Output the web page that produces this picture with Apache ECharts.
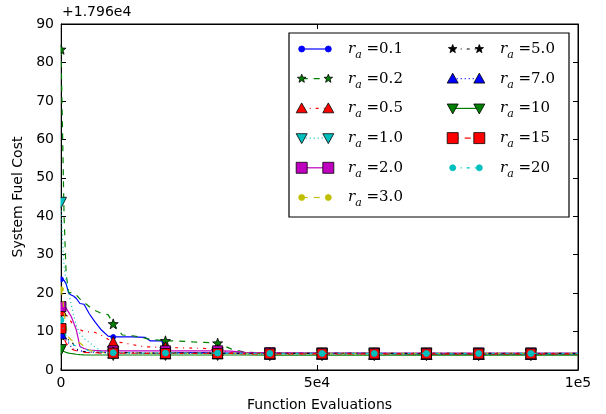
<!DOCTYPE html>
<html><head><meta charset="utf-8">
<script src="https://cdn.jsdelivr.net/npm/echarts@6/dist/echarts.min.js"></script>
<style>html,body{margin:0;padding:0;background:#fff}#c{width:606px;height:414px}</style>
</head><body><div id="c"></div><script>
// ---- data ----
const evals = [0, 300, 600, 1000, 1500, 2000, 2500, 3000, 3700, 4500, 5500, 6600, 7900, 9200, 10200, 12000, 14000, 16400, 17400, 19700, 20400, 22300, 25800, 28000, 30600, 33200, 36000, 40800, 51000, 61200, 71400, 81600, 91800, 101000];
const markerEvals = [0, 10200, 20400, 30600, 40800, 51000, 61200, 71400, 81600, 91800];
const labels = ['0.1', '0.2', '0.5', '1.0', '2.0', '3.0', '5.0', '7.0', '10', '15', '20'];
const ra01 = [23.6, 23.5, 23.3, 22.4, 20.0, 19.5, 19.2, 18.6, 17.3, 17.1, 14.7, 12.6, 10.4, 8.8, 8.6, 8.6, 8.6, 8.5, 7.6, 7.6, 4.6, 4.5, 4.5, 4.5, 4.4, 4.4, 4.4, 4.3, 4.3, 4.3, 4.2, 4.2, 4.2, 4.2];
const ra02 = [83.4, 62, 40, 25, 20.2, 20.1, 20.0, 19.5, 18.5, 17.6, 16.5, 15.5, 14.7, 14.4, 12.0, 9.1, 8.9, 8.3, 8.0, 7.7, 7.6, 7.6, 7.3, 7.2, 7.0, 5.5, 4.6, 4.4, 4.3, 4.3, 4.2, 4.2, 4.2, 4.2];
const ra05 = [15.5, 15.0, 14.8, 14.5, 13.5, 12.5, 11.5, 11.0, 10.5, 10.0, 9.9, 9.8, 9.0, 8.0, 7.3, 7.1, 6.6, 6.0, 6.0, 5.9, 5.9, 5.8, 5.7, 5.6, 5.2, 4.6, 4.4, 4.3, 4.3, 4.2, 4.2, 4.2, 4.2, 4.2];
const ra1 = [43.5, 34, 27, 23, 20, 17, 14, 11.5, 9.5, 8.2, 7.2, 6.0, 5.0, 4.8, 4.7, 4.6, 4.6, 4.5, 4.5, 4.5, 4.5, 4.5, 4.4, 4.4, 4.4, 4.4, 4.4, 4.3, 4.3, 4.3, 4.3, 4.3, 4.3, 4.3];
const ra2 = [16.5, 16.4, 16.3, 16.1, 15.0, 13.9, 12.2, 10.4, 6.1, 5.6, 5.2, 5.1, 5.0, 5.0, 5.0, 5.0, 5.0, 5.0, 5.0, 5.0, 5.0, 5.0, 5.0, 5.0, 5.0, 4.9, 4.6, 4.5, 4.4, 4.4, 4.4, 4.4, 4.4, 4.4];
const ra3 = [21, 19, 15, 11, 8.5, 7.8, 7.5, 7.3, 7.0, 6.2, 5.2, 4.8, 4.6, 4.5, 4.5, 4.5, 4.5, 4.4, 4.4, 4.4, 4.4, 4.4, 4.4, 4.4, 4.4, 4.3, 4.3, 4.3, 4.3, 4.3, 4.3, 4.3, 4.3, 4.3];
const ra5 = [9.0, 8.8, 8.5, 8.2, 7.8, 7.6, 6.5, 5.5, 5.0, 4.8, 4.7, 4.6, 4.6, 4.5, 4.5, 4.5, 4.5, 4.4, 4.4, 4.4, 4.4, 4.4, 4.4, 4.4, 4.3, 4.3, 4.3, 4.3, 4.3, 4.3, 4.3, 4.3, 4.3, 4.3];
const ra7 = [9.5, 8.5, 8.0, 7.8, 7.0, 6.0, 5.4, 5.2, 5.0, 4.8, 4.6, 4.6, 4.5, 4.5, 4.5, 4.4, 4.4, 4.4, 4.4, 4.3, 4.3, 4.3, 4.3, 4.3, 4.3, 4.3, 4.2, 4.2, 4.2, 4.2, 4.2, 4.2, 4.2, 4.2];
const ra10 = [5.2, 5.0, 4.8, 4.6, 4.4, 4.3, 4.2, 4.1, 4.0, 3.95, 3.9, 3.9, 3.9, 3.9, 3.9, 3.9, 3.9, 3.9, 3.9, 3.9, 3.9, 3.9, 3.9, 3.9, 3.9, 3.9, 3.9, 3.85, 3.85, 3.85, 3.85, 3.85, 3.85, 3.85];
const ra15 = [10.8, 9.5, 8.2, 7.0, 6.0, 5.5, 5.2, 5.0, 4.8, 4.6, 4.5, 4.5, 4.4, 4.4, 4.4, 4.4, 4.4, 4.3, 4.3, 4.3, 4.3, 4.3, 4.3, 4.3, 4.3, 4.3, 4.2, 4.2, 4.2, 4.2, 4.2, 4.2, 4.2, 4.2];
const ra20 = [13.0, 11.5, 10.0, 8.8, 7.5, 7.0, 6.5, 6.2, 6.0, 5.5, 5.0, 4.8, 4.7, 4.5, 4.5, 4.5, 4.5, 4.4, 4.4, 4.4, 4.4, 4.4, 4.4, 4.4, 4.4, 4.3, 4.3, 4.3, 4.3, 4.3, 4.3, 4.3, 4.3, 4.3];
const seriesValues = [ra01, ra02, ra05, ra1, ra2, ra3, ra5, ra7, ra10, ra15, ra20];
const xTickValues = [0, 50000, 101000];
const xTickLabels = ['0', '5e4', '1e5'];
const yOffsetText = '+1.796e4';

// ---- styles ----
const DASH = {solid: null, dashed: [6, 6], dashdot: [3, 5, 1, 5], dotted: [1, 3]};
const styles = [
  {color: '#0000ff', dash: 'solid', mk: 'circle', size: 5, edge: '#0000ff'},
  {color: '#008000', dash: 'dashed', mk: 'star', size: 10, edge: '#000'},
  {color: '#ff0000', dash: 'dashdot', mk: 'tri', size: 11, edge: '#000'},
  {color: '#00bfbf', dash: 'dotted', mk: 'trid', size: 11, edge: '#000'},
  {color: '#bf00bf', dash: 'solid', mk: 'square', size: 10, edge: '#000'},
  {color: '#bfbf00', dash: 'dashed', mk: 'circle', size: 5, edge: '#bfbf00'},
  {color: '#000000', dash: 'dashdot', mk: 'star', size: 9, edge: '#000'},
  {color: '#0000ff', dash: 'dotted', mk: 'tri', size: 11, edge: '#000'},
  {color: '#008000', dash: 'solid', mk: 'trid', size: 11, edge: '#000'},
  {color: '#ff0000', dash: 'dashed', mk: 'square', size: 10, edge: '#000'},
  {color: '#00bfbf', dash: 'dashdot', mk: 'circle', size: 6, edge: '#00bfbf'}
];
const STAR_PATH = 'path://M0,-10L2.35,-3.24L9.51,-3.09L3.8,1.24L5.88,8.09L0,4L-5.88,8.09L-3.8,1.24L-9.51,-3.09L-2.35,-3.24Z';
function symName(mk) {
  return mk === 'circle' ? 'circle' : mk === 'star' ? STAR_PATH : (mk === 'square' ? 'rect' : 'triangle');
}

const series = seriesValues.map((ys, si) => {
  const st = styles[si];
  return {
    type: 'line', name: labels[si],
    data: evals.map((x, i) => ({value: [x, ys[i]], symbol: markerEvals.includes(x) ? symName(st.mk) : 'none'})),
    showSymbol: true, showAllSymbol: true, symbolSize: st.size,
    symbolRotate: st.mk === 'trid' ? 180 : 0,
    lineStyle: {color: st.color, width: 1.2, type: DASH[st.dash] || 'solid'},
    itemStyle: {color: st.color, borderColor: st.edge, borderWidth: 0.8},
    emphasis: {disabled: true}, animation: false, clip: true, z: 2 + si * 0.01
  };
});

// ---- legend (custom graphic) ----
const legendEls = [];
// mask: clip markers to the plot area on the left edge (as the original does)
legendEls.push({type: 'rect', shape: {x: 54.5, y: 18, width: 6, height: 350}, style: {fill: '#fff'}, z: 90, silent: true});
const LX = 289, LY = 33, LW = 280, LH = 184;
legendEls.push({type: 'rect', shape: {x: LX, y: LY, width: LW, height: LH}, style: {fill: '#fff', stroke: '#000', lineWidth: 1.2}, z: 100});
function markerGraphic(mk, cx, cy, size, color, edge) {
  const h = size / 2;
  const st = {fill: color, stroke: edge, lineWidth: 0.8};
  if (mk === 'circle') return {type: 'circle', shape: {cx, cy, r: h}, style: st, z: 102};
  if (mk === 'square') return {type: 'rect', shape: {x: cx - h, y: cy - h, width: size, height: size}, style: st, z: 102};
  if (mk === 'tri') return {type: 'polygon', shape: {points: [[cx, cy - h], [cx + h, cy + h * 0.8], [cx - h, cy + h * 0.8]]}, style: st, z: 102};
  if (mk === 'trid') return {type: 'polygon', shape: {points: [[cx, cy + h], [cx + h, cy - h * 0.8], [cx - h, cy - h * 0.8]]}, style: st, z: 102};
  const pts = [];
  for (let k = 0; k < 10; k++) {
    const r = k % 2 === 0 ? h : h * 0.42;
    const a = -Math.PI / 2 + k * Math.PI / 5;
    pts.push([cx + r * Math.cos(a), cy + r * Math.sin(a)]);
  }
  return {type: 'polygon', shape: {points: pts}, style: st, z: 102};
}
labels.forEach((lab, si) => {
  const st = styles[si];
  const col = si < 6 ? 0 : 1;
  const row = si < 6 ? si : si - 6;
  const cy = 49 + row * 29.7;
  const x1 = col === 0 ? 301.7 : 452.7;
  const x2 = x1 + 26.6;
  const tx = col === 0 ? 348 : 500;
  legendEls.push({type: 'line', shape: {x1, y1: cy, x2, y2: cy}, style: {stroke: st.color, lineWidth: 1.2, lineDash: DASH[st.dash]}, z: 101});
  const ls = st.mk === 'circle' ? 6 : st.mk === 'star' ? 9 : 11;
  legendEls.push(markerGraphic(st.mk, x1, cy, ls, st.color, st.edge));
  legendEls.push(markerGraphic(st.mk, x2, cy, ls, st.color, st.edge));
  legendEls.push({type: 'text', x: tx, y: cy, z: 103, style: {
    text: '{r|r}{a|a}{n| =' + lab + '}', verticalAlign: 'middle',
    rich: {
      r: {fontFamily: 'DejaVu Serif', fontStyle: 'italic', fontSize: 15, fill: '#000'},
      a: {fontFamily: 'DejaVu Serif', fontStyle: 'italic', fontSize: 11, fill: '#000', padding: [12, 0, 0, 0]},
      n: {fontFamily: 'DejaVu Serif', fontSize: 15, fill: '#000'}
    }}});
});
legendEls.push({type: 'text', x: 62, y: 5, z: 103, style: {text: yOffsetText, fontFamily: 'DejaVu Sans', fontSize: 14, fill: '#000'}});

const axisCommon = {
  axisLine: {show: true, onZero: false, lineStyle: {color: '#000', width: 1}},
  splitLine: {show: false}
};
const chart = echarts.init(document.getElementById('c'), null, {renderer: 'canvas'});
chart.setOption({
  animation: false,
  backgroundColor: '#fff',
  grid: {left: 61, top: 24, right: 28, bottom: 44, show: true, borderColor: '#000', borderWidth: 1, backgroundColor: 'transparent', containLabel: false, outerBoundsMode: 'none'},
  xAxis: [
    Object.assign({type: 'value', min: 0, max: 101000, position: 'bottom',
      name: 'Function Evaluations', nameLocation: 'middle', nameGap: 28,
      nameTextStyle: {fontFamily: 'DejaVu Sans', fontSize: 14, color: '#000'},
      axisTick: {show: true, inside: true, length: 5, customValues: xTickValues, lineStyle: {color: '#000'}},
      axisLabel: {customValues: xTickValues, formatter: v => xTickLabels[xTickValues.indexOf(v)] ?? '', fontFamily: 'DejaVu Sans', fontSize: 14, color: '#000', margin: 6, showMaxLabel: true}
    }, axisCommon),
    Object.assign({type: 'value', min: 0, max: 101000, position: 'top',
      axisTick: {show: true, inside: true, length: 5, customValues: xTickValues, lineStyle: {color: '#000'}},
      axisLabel: {show: false}
    }, axisCommon)
  ],
  yAxis: [
    Object.assign({type: 'value', min: 0, max: 90, interval: 10, position: 'left',
      name: 'System Fuel Cost', nameLocation: 'middle', nameGap: 35,
      nameTextStyle: {fontFamily: 'DejaVu Sans', fontSize: 14, color: '#000'},
      axisTick: {show: true, inside: true, length: 5, lineStyle: {color: '#000'}},
      axisLabel: {fontFamily: 'DejaVu Sans', fontSize: 14, color: '#000', margin: 7}
    }, axisCommon),
    Object.assign({type: 'value', min: 0, max: 90, interval: 10, position: 'right',
      axisTick: {show: true, inside: true, length: 5, lineStyle: {color: '#000'}},
      axisLabel: {show: false}
    }, axisCommon)
  ],
  series: series,
  graphic: legendEls
});
</script></body></html>
